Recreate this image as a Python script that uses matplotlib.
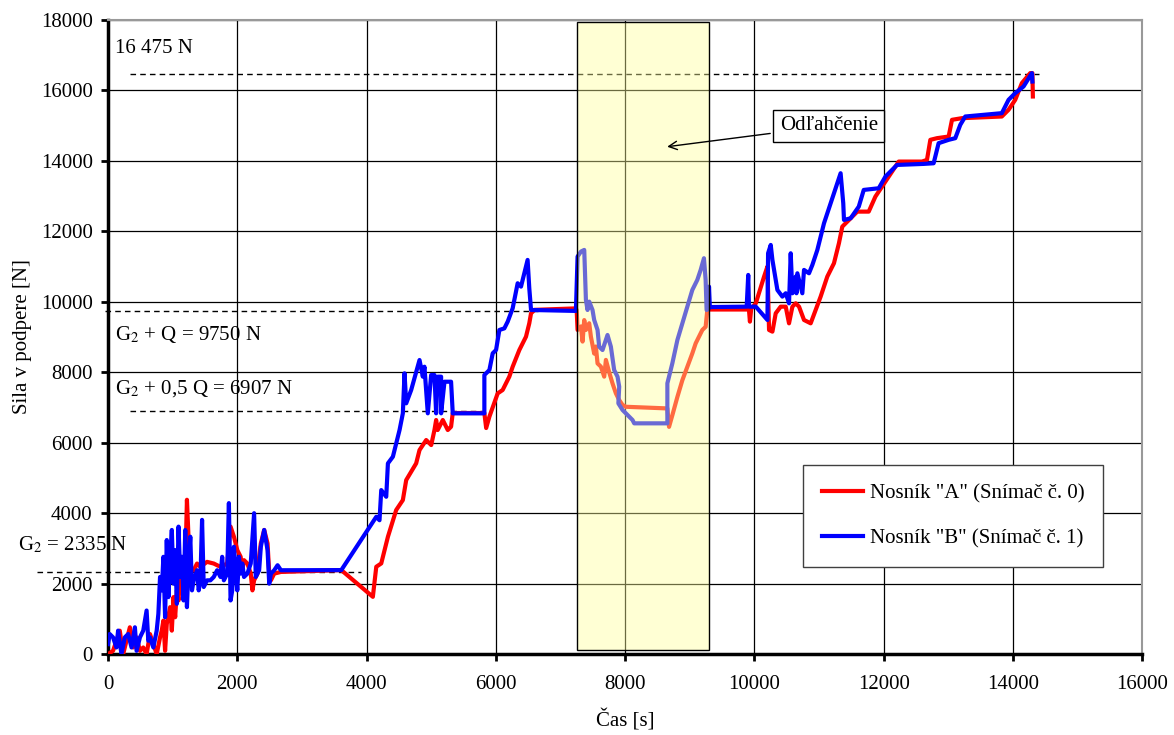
import matplotlib
matplotlib.use("Agg")
import matplotlib.pyplot as plt
from matplotlib.patches import Rectangle

plt.rcParams['font.family'] = ['Liberation Serif', 'DejaVu Serif']
plt.rcParams['mathtext.fontset'] = 'stix'

# Nosnik "A" (snimac c. 0): cas [s], sila [N]
t_a = [0, 78, 182, 234, 338, 390, 442, 494, 545, 597, 649, 753, 805, 831, 857, 883, 909, 961, 987,
       1013, 1039, 1065, 1091, 1117, 1143, 1169, 1195, 1221, 1247, 1273, 1325, 1377, 1429, 1532, 1636,
       1740, 1844, 1896, 1948, 2000, 2052, 2078, 2104, 2156, 2208, 2234, 2260, 2312, 2338, 2364, 2416,
       2468, 2494, 2520, 2571, 2675, 3609, 4097, 4150, 4227, 4330, 4458, 4561, 4613, 4767, 4819, 4922,
       5000, 5050, 5076, 5100, 5179, 5256, 5307, 5333, 5822, 5850, 5900, 6028, 6105, 6208, 6260, 6363,
       6466, 6517, 6544, 6600, 7238,
       7250, 7264, 7316, 7341, 7367, 7393, 7444, 7470, 7521, 7547, 7573, 7624, 7676, 7702, 7753, 7805,
       7857, 7908, 7960, 8011, 8653, 8679, 8730, 8808, 8885, 8962, 9039, 9091, 9142, 9194, 9245, 9271,
       9300,
       9915, 9930, 9950, 10021, 10149, 10201, 10226, 10278, 10329, 10406, 10484, 10535, 10587, 10638,
       10690, 10767, 10870, 10947, 11024, 11127, 11230, 11307, 11359, 11436, 11591, 11768, 11871, 11974,
       12129, 12232, 12592, 12669, 12721, 12824, 13004, 13056, 13210, 13827, 13931, 14034, 14137, 14266,
       14300, 14307]
f_a = [0, 95, 667, 0, 762, 190, 476, 95, 190, 0, 571, 0, 476, 667, 952, 95, 857, 1333, 667,
       1619, 1048, 1810, 1524, 2286, 2000, 2762, 2476, 4381, 3238, 2381, 2381, 2571, 2476, 2619, 2571,
       2476, 2571, 3619, 3333, 2952, 2762, 2381, 2667, 2571, 2286, 1810, 2095, 2286, 2762, 3143, 3524,
       3143, 2286, 2095, 2286, 2333, 2385, 1627, 2480, 2575, 3331, 4090, 4372, 4940, 5414, 5792, 6076,
       5934, 6360, 6644, 6360, 6644, 6360, 6454, 6843, 6843, 6417, 6740, 7400, 7496, 7874, 8157, 8631,
       9009, 9389, 9673, 9770, 9812,
       9765, 9200, 9300, 8870, 9480, 9200, 9390, 9010, 8530, 8730, 8250, 8160, 7875, 8350, 8000, 7680,
       7400, 7210, 7070, 7020, 6973, 6450, 6780, 7300, 7775, 8155, 8535, 8820, 9010, 9200, 9290, 9765,
       9780,
       9780, 9436, 9800, 9956, 10714, 11000, 9199, 9152, 9672, 9861, 9861, 9388, 9861, 9956,
       9861, 9483, 9388, 9767, 10146, 10714, 11092, 11660, 12132, 12274, 12558, 12558, 12984, 13268,
       13694, 13978, 13978, 14026, 14595, 14642, 14689, 15163, 15210, 15257, 15447, 15730, 16204, 16488,
       16488, 15825]

# Nosnik "B" (snimac c. 1)
t_b = [0, 26, 78, 130, 156, 208, 260, 312, 364, 416, 442, 494, 545, 597, 623, 649, 701, 753, 779,
       805, 831, 857, 883, 909, 935, 961, 987, 1013, 1039, 1065, 1091, 1117, 1143, 1169, 1195, 1221,
       1247, 1273, 1299, 1325, 1377, 1403, 1429, 1455, 1481, 1532, 1584, 1636, 1688, 1740, 1766, 1792,
       1844, 1870, 1896, 1922, 1948, 1974, 2000, 2026, 2052, 2078, 2104, 2156, 2208, 2260, 2286, 2312,
       2338, 2364, 2416, 2468, 2494, 2520, 2571, 2623, 2675, 3609, 4150, 4200, 4227, 4304, 4330, 4407,
       4484, 4510, 4561, 4587, 4613, 4690, 4819, 4870, 4895, 4947, 4999, 5050, 5076, 5101, 5153, 5153,
       5205, 5307, 5333, 5822, 5822, 5900, 5951, 6003, 6054, 6131, 6183, 6260, 6337, 6389, 6466, 6491,
       6517, 6544, 7238,
       7250, 7264, 7316, 7367, 7393, 7418, 7444, 7495, 7521, 7573, 7598, 7650, 7727, 7779, 7830, 7882,
       7908, 7895, 7960, 8037, 8114, 8140, 8653, 8653, 8730, 8808, 8885, 8962, 9039, 9116, 9168, 9219,
       9245, 9260, 9290, 9297, 9310,
       9880, 9904, 9915, 10021, 10201, 10211, 10252, 10278, 10355, 10432, 10484, 10535, 10561, 10587,
       10638, 10650, 10664, 10741, 10767, 10844, 10896, 10973, 11076, 11179, 11282, 11333, 11374, 11385,
       11488, 11614, 11691, 11923, 12026, 12206, 12618, 12772, 12849, 13004, 13107, 13184, 13261, 13827,
       13931, 14034, 14163, 14292, 14300]
f_b = [286, 571, 476, 190, 667, 0, 476, 571, 190, 762, 95, 476, 667, 1238, 381, 476, 190, 667, 1143,
       2190, 1810, 2762, 1048, 3238, 1619, 2762, 3524, 2000, 2952, 1429, 3619, 2190, 2762, 1524, 3524, 1333,
       2571, 3333, 1810, 2095, 2381, 1810, 2095, 3810, 1905, 2095, 2095, 2190, 2381, 2190, 2762, 2095,
       2286, 4286, 1524, 1810, 3048, 2381, 1810, 2762, 2286, 2571, 2190, 2286, 2571, 4000, 2190, 2286,
       2381, 3048, 3524, 2952, 2000, 2286, 2381, 2524, 2381, 2385, 3898, 3800, 4656, 4466, 5414, 5603,
       6170, 6360, 6834, 7970, 7118, 7496, 8347, 7874, 8157, 6834, 7921, 7921, 6834, 7874, 7874, 6834,
       7731, 7731, 6834, 6834, 7921, 8063, 8537, 8631, 9199, 9245, 9436, 9815, 10525, 10430, 10997, 11187,
       10383, 9767, 9740,
       10430, 11282, 11424, 11471, 10051, 9767, 10004, 9767, 9483, 9199, 8726, 8631, 9057, 8726, 8063, 7874,
       7590, 7117, 6928, 6786, 6644, 6550, 6550, 7685, 8253, 8915, 9388, 9861, 10335, 10619, 10903, 11235,
       10619, 9767, 9800, 10430, 9850,
       9861, 10761, 9861, 9861, 9483, 11376, 11612, 11187, 10335, 10146, 10241, 9956, 11376, 10241,
       10714, 10241, 10808, 10241, 10903, 10808, 11045, 11470, 12227, 12795, 13363, 13647, 12795, 12322,
       12369, 12700, 13174, 13221, 13552, 13883, 13912, 13930, 14500, 14595, 14642, 15020, 15257, 15352,
       15730, 15920, 16109, 16488, 16250]

# referencne urovne sily
ref_values = [16475, 9750, 6907, 2335]
ref_ranges = [(340, 14400), (-50, 6650), (340, 5800), (-1100, 3920)]
ref_texts = ['16 475 N', 'G$_2$ + Q = 9750 N', 'G$_2$ + 0,5 Q = 6907 N', 'G$_2$ = 2335 N']
ref_text_pos = [(110, 17200), (110, 9060), (110, 7550), (-1390, 3100)]

odlah_start, odlah_end = 7260, 9300

fig = plt.figure(figsize=(11.74, 7.35), dpi=100)
ax = fig.add_axes([0.092, 0.110, 0.881, 0.863])

ax.plot(t_a, f_a, color='#ff0000', lw=3.0, label='Nosník "A" (Snímač č. 0)', zorder=3, solid_joinstyle='round')
ax.plot(t_b, f_b, color='#0000ff', lw=3.0, label='Nosník "B" (Snímač č. 1)', zorder=4, solid_joinstyle='round')

for val, (x0, x1) in zip(ref_values, ref_ranges):
    ax.plot([x0, x1], [val, val], color='black', lw=1, ls=(0, (4, 3)), zorder=2, clip_on=False)
for txt, (x, y) in zip(ref_texts, ref_text_pos):
    ax.text(x, y, txt, fontsize=15, va='center', ha='left')

# oblast odlahcenia
ax.add_patch(Rectangle((odlah_start, 120), odlah_end - odlah_start, 17820,
                       facecolor='#ffff99', alpha=0.42, edgecolor='none', zorder=5))
ax.add_patch(Rectangle((odlah_start, 120), odlah_end - odlah_start, 17820,
                       facecolor='none', edgecolor='black', lw=1, zorder=6))
ax.annotate('Odľahčenie', xy=(8650, 14400), xytext=(11150, 14990), fontsize=15,
            ha='center', va='center', zorder=7,
            bbox=dict(boxstyle='square,pad=0.3', fc='white', ec='black', lw=1),
            arrowprops=dict(arrowstyle='->', color='black', lw=1, shrinkB=0))

ax.set_xlim(0, 16000)
ax.set_ylim(0, 18000)
ax.set_xticks(range(0, 16001, 2000))
ax.set_yticks(range(0, 18001, 2000))
ax.grid(True, color='black', lw=0.9, zorder=1)
ax.set_axisbelow(True)
ax.tick_params(labelsize=15, width=2, length=5, color='black')
ax.tick_params(axis='x', pad=10)
ax.tick_params(axis='y', pad=6)
for s in ['left', 'bottom']:
    ax.spines[s].set_linewidth(2.5)
for s in ['top', 'right']:
    ax.spines[s].set_color('#999999')
    ax.spines[s].set_linewidth(1.5)
ax.set_xlabel('Čas [s]', fontsize=15, labelpad=11)
ax.set_ylabel('Sila v podpere [N]', fontsize=15, labelpad=6)

leg = ax.legend(loc='upper left', bbox_to_anchor=(0.672, 0.298), fontsize=15, frameon=True,
                fancybox=False, edgecolor='#404040', framealpha=1, labelspacing=1.2,
                handlelength=2.0, handletextpad=0.3, borderpad=0.9, borderaxespad=0)
leg.get_frame().set_linewidth(1)
leg.set_zorder(8)

fig.savefig('out.png', dpi=100)
